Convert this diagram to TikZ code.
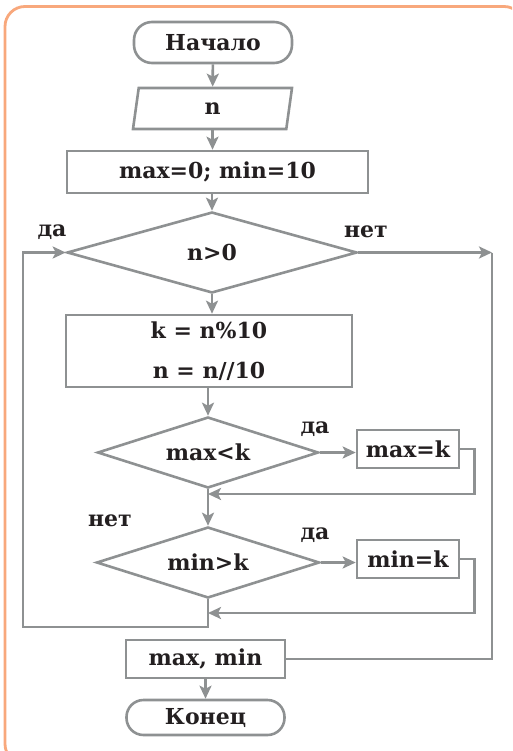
\documentclass[tikz,border=0pt]{standalone}
\usepackage{fontspec}
\setmainfont{DejaVu Serif}
\usetikzlibrary{arrows.meta,shapes.geometric}

\definecolor{flowgray}{HTML}{8E9192}
\definecolor{frameorange}{HTML}{F8A87C}
\definecolor{inkblack}{HTML}{231F20}

\begin{document}
\begin{tikzpicture}[x=1pt,y=-1pt,line width=2.6pt,
  every node/.style={font=\bfseries\fontsize{22}{26}\selectfont,text=inkblack},
  blk/.style={draw=flowgray,rectangle,inner sep=0pt},
  term/.style={blk,rounded corners=18pt},
  io/.style={draw=flowgray,trapezium,trapezium left angle=64,
    trapezium right angle=116,trapezium stretches body,inner sep=0pt},
  test/.style={draw=flowgray,diamond,aspect=3.5,inner sep=0pt},
  flow/.style={draw=flowgray,-{Stealth[length=13pt,width=12pt,inset=3pt]}},
  conn/.style={draw=flowgray}]
  \useasboundingbox (0,0) rectangle (512,751);
  \clip (0,0) rectangle (512,751);
  % frame, cut off at the right and bottom
  \draw[frameorange,line width=2.8pt,rounded corners=20pt] (5,6.5) rectangle (524,764);

  % blocks
  \node[term,minimum width=158pt,minimum height=41pt] (start) at (213,42.5) {Начало};
  \node[io,minimum width=159pt,minimum height=41pt] (inp) at (212.5,108.5) {n};
  \node[blk,minimum width=301pt,minimum height=42pt] (init) at (217.5,172) {max=0; min=10};
  \node[test,minimum width=290pt,minimum height=81pt] (cond) at (212,252.5) {n>0};
  \node[blk,minimum width=286pt,minimum height=72pt,align=center,
    font=\bfseries\fontsize{22}{40}\selectfont] (body) at (209,351) {k = n\%10\\n = n//10};
  \node[test,minimum width=221pt,minimum height=71pt] (cmax) at (208,452.5) {max<k};
  \node[blk,minimum width=102pt,minimum height=38pt] (smax) at (408,449) {max=k};
  \node[test,minimum width=223pt,minimum height=71pt] (cmin) at (208,562.5) {min>k};
  \node[blk,minimum width=102pt,minimum height=38pt] (smin) at (408,559) {min=k};
  \node[blk,minimum width=159pt,minimum height=38pt] (outp) at (205.5,659) {max, min};
  \node[term,minimum width=158pt,minimum height=35pt,rounded corners=17pt] (stop) at (205.5,717.5) {Конец};

  % branch labels
  \node (yes1) at (52,232) {да};
  \node (no1) at (366,232) {нет};
  \node (yes2) at (315,429) {да};
  \node (no2) at (110,521) {нет};
  \node (yes3) at (315,535) {да};

  % joints
  \coordinate (jmax) at (208,494);
  \coordinate (jmin) at (208,613);
  \coordinate (back) at (23,627);
  \coordinate (exit) at (492,252.5);

  % connectors
  \draw[flow] (start) -- (inp);
  \draw[flow] (inp.south) -- (inp.south |- init.north);
  \draw[flow] (cond.north |- init.south) -- (cond.north);
  \draw[flow] (cond.south) -- (cond.south |- body.north);
  \draw[flow] (cmax.north |- body.south) -- (cmax.north);
  \draw[flow] (cmax.east) -- (cmax.east -| smax.west);
  \draw[flow] (smax.east) -- ++(14,0) |- (jmax);
  \draw[flow] (cmax.south) -- (cmin.north);
  \draw[flow] (cmin.east) -- (cmin.east -| smin.west);
  \draw[flow] (smin.east) -- ++(14,0) |- (jmin);
  \draw[flow] (cmin.south) |- (back) |- (cond.west);
  \draw[flow] (cond.east) -- (exit);
  \draw[conn] (exit) |- (outp.east);
  \draw[flow] (outp) -- (stop);
\end{tikzpicture}
\end{document}
